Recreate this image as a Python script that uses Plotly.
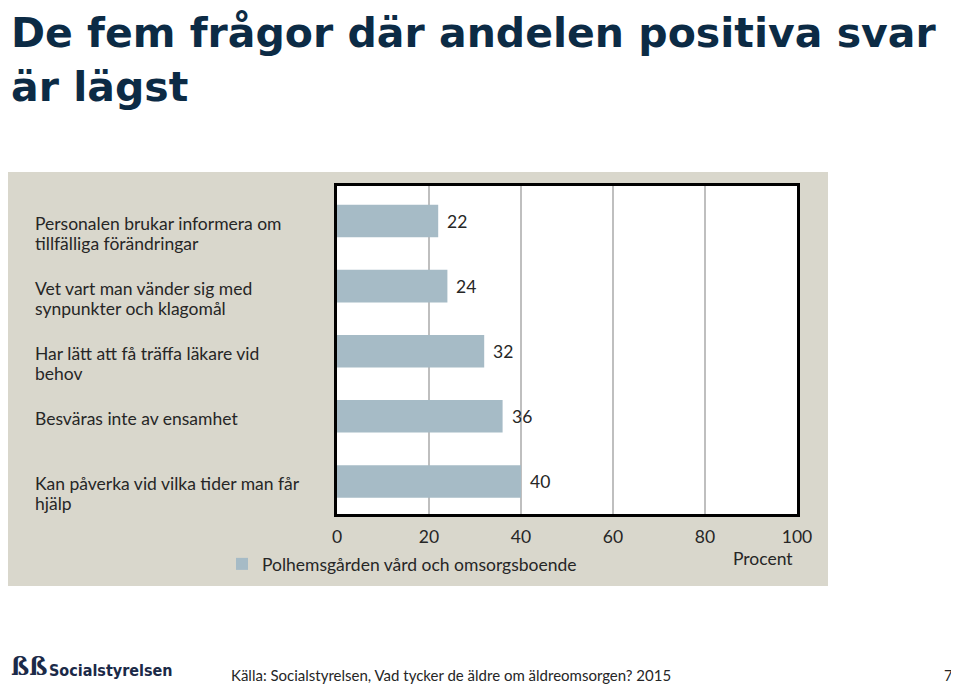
import plotly.graph_objects as go

categories = [
    "Personalen brukar informera om<br>tillfälliga förändringar",
    "Vet vart man vänder sig med<br>synpunkter och klagomål",
    "Har lätt att få träffa läkare vid<br>behov",
    "Besväras inte av ensamhet",
    "Kan påverka vid vilka tider man får<br>hjälp",
]
values = [22, 24, 32, 36, 40]
series_name = "Polhemsgården vård och omsorgsboende"
x_ticks = [0, 20, 40, 60, 80, 100]
title_lines = ["De fem frågor där andelen positiva svar", "är lägst"]
axis_title = "Procent"
source_text = "Källa: Socialstyrelsen, Vad tycker de äldre om äldreomsorgen? 2015"
page_number = "7"
logo_text = "Socialstyrelsen"

# page body has an 8px default margin: figure is drawn 8px lower/right
OFF = 8
W, H = 959 - OFF, 688 - OFF
# plot area in reference (screen) pixels
L, R, T, B = 337, 797, 186, 514
pw, ph = R - L, B - T

def px(x):
    return (x - L) / pw

def py(y):
    return (B - y) / ph

FONT = "Lato, 'Open Sans', sans-serif"
TITLE_FONT = "'DejaVu Sans', sans-serif"
TXT = "#262626"
BAR = "#A6BBC6"
NAVY = "#0C2B45"
FS = 17.5

fig = go.Figure()
fig.add_trace(go.Bar(
    x=values, y=categories, orientation="h",
    marker=dict(color=BAR, line=dict(width=0)),
    width=0.5, name=series_name, showlegend=True,
    hoverinfo="x+y",
))

annotations = []
for c, v in zip(categories, values):
    annotations.append(dict(
        x=v, y=c, xref="x", yref="y", text=str(v), showarrow=False,
        xanchor="left", yanchor="middle", xshift=7,
        font=dict(family=FONT, size=FS, color=TXT),
    ))
for c in categories:
    for i, line in enumerate(c.split("<br>")):
        annotations.append(dict(
            x=px(33), y=c, xref="paper", yref="y", text=line, showarrow=False,
            xanchor="left", yanchor="middle", align="left",
            yshift=-2.5 - 20 * i,
            font=dict(family=FONT, size=FS, color=TXT),
        ))
annotations += [
    dict(x=px(9), y=py(33), xref="paper", yref="paper", text="<b>" + title_lines[0] + "</b>",
         showarrow=False, xanchor="left", yanchor="middle",
         font=dict(family=TITLE_FONT, size=41, color=NAVY)),
    dict(x=px(9), y=py(87), xref="paper", yref="paper", text="<b>" + title_lines[1] + "</b>",
         showarrow=False, xanchor="left", yanchor="middle",
         font=dict(family=TITLE_FONT, size=41, color=NAVY)),
    dict(x=px(763), y=py(558), xref="paper", yref="paper", text=axis_title, showarrow=False,
         xanchor="center", yanchor="middle",
         font=dict(family=FONT, size=FS, color=TXT)),
    dict(x=px(229), y=py(675), xref="paper", yref="paper", text=source_text,
         showarrow=False, xanchor="left", yanchor="middle",
         font=dict(family=FONT, size=15, color=TXT)),
    dict(x=px(955), y=py(675), xref="paper", yref="paper", text=page_number,
         showarrow=False, xanchor="right", yanchor="middle",
         font=dict(family=FONT, size=15, color=TXT)),
    dict(x=px(47), y=py(670), xref="paper", yref="paper", text="<b>" + logo_text + "</b>",
         showarrow=False, xanchor="left", yanchor="middle",
         font=dict(family="'DejaVu Sans Condensed', 'Liberation Sans Narrow', sans-serif",
                   size=16, color="#1B2A48")),
    dict(x=px(9), y=py(666), xref="paper", yref="paper", text="<b>ßß</b>",
         showarrow=False, xanchor="left", yanchor="middle",
         font=dict(family="'DejaVu Serif', serif", size=24, color="#1B2A48")),
]

shapes = [
    dict(type="rect", xref="paper", yref="paper",
         x0=px(3), x1=px(828), y0=py(586), y1=py(172),
         fillcolor="#D9D7CC", line=dict(width=0), layer="below"),
    dict(type="rect", xref="paper", yref="paper",
         x0=0, x1=1, y0=0, y1=1,
         fillcolor="white", line=dict(width=0), layer="below"),
]

fig.update_layout(
    width=W, height=H,
    margin=dict(l=L - OFF, r=959 - R, t=T - OFF, b=688 - B, pad=0),
    paper_bgcolor="white", plot_bgcolor="white",
    font=dict(family=FONT, size=FS, color=TXT),
    xaxis=dict(range=[0, 100], tickvals=x_ticks, ticktext=[str(t) for t in x_ticks],
               showgrid=True, gridcolor="#BFBFBF", gridwidth=2,
               showline=True, linecolor="black", linewidth=3, mirror=True,
               ticks="outside", ticklen=5, tickcolor="rgba(0,0,0,0)",
               tickfont=dict(family=FONT, size=FS, color=TXT), zeroline=False,
               fixedrange=True),
    yaxis=dict(categoryorder="array", categoryarray=categories, autorange="reversed",
               showticklabels=False, showgrid=False, zeroline=False,
               showline=True, linecolor="black", linewidth=3, mirror=True,
               fixedrange=True),
    showlegend=True,
    legend=dict(orientation="h", x=px(222), xanchor="left", y=py(564), yanchor="middle",
                bgcolor="rgba(0,0,0,0)", font=dict(family=FONT, size=FS, color=TXT),
                itemwidth=30),
    bargap=0.5,
    annotations=annotations,
    shapes=shapes,
)

fig.write_html("out.html")
